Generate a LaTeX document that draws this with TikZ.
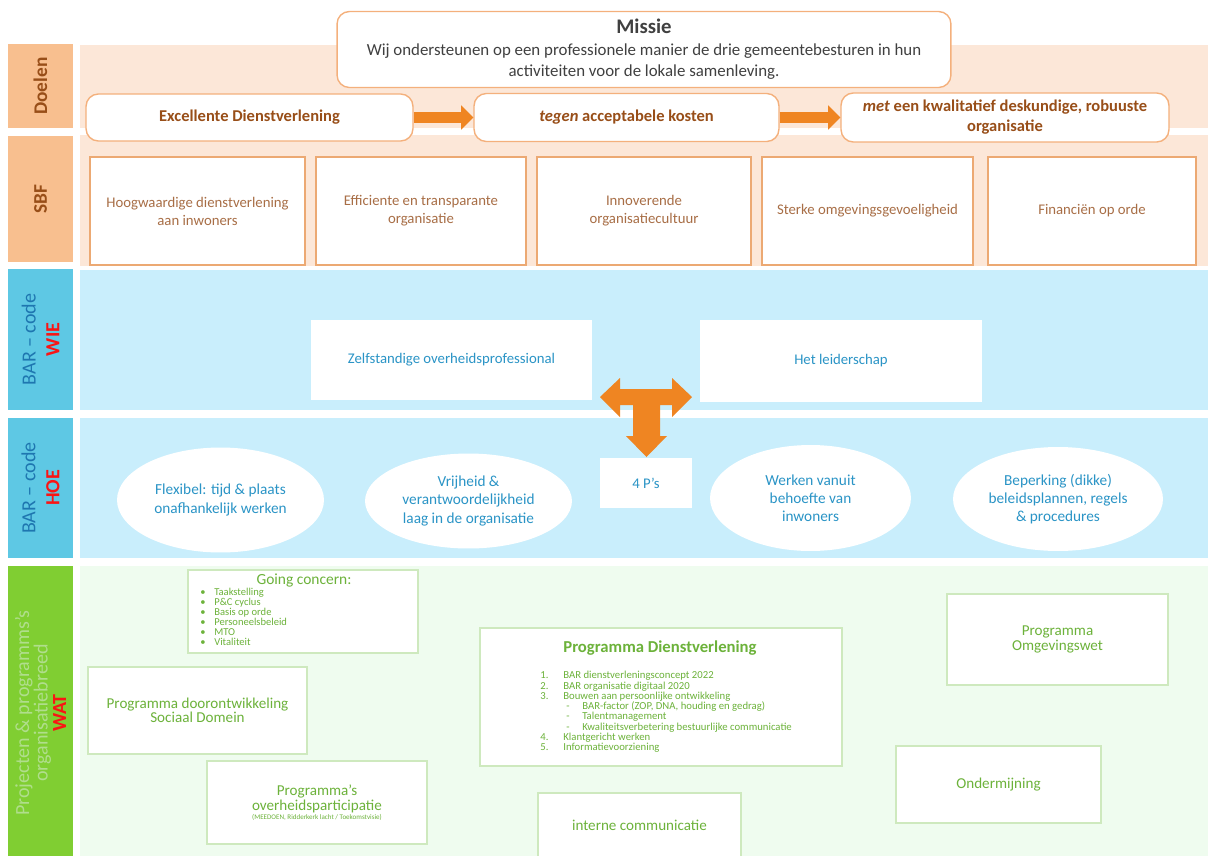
\documentclass[tikz,border=0pt]{standalone}
\usepackage{fontspec}
\setmainfont{Carlito}
\usepackage{tikz}
\usetikzlibrary{arrows.meta,positioning,shapes.geometric,shadows}

\definecolor{orlab}{RGB}{248,191,143}
\definecolor{orband}{RGB}{252,231,216}
\definecolor{orline}{RGB}{244,176,124}
\definecolor{orarrow}{RGB}{239,133,34}
\definecolor{brdark}{RGB}{152,78,24}
\definecolor{brlight}{RGB}{168,110,70}
\definecolor{bllab}{RGB}{94,200,228}
\definecolor{blband}{RGB}{201,238,252}
\definecolor{bltext}{RGB}{42,148,198}
\definecolor{bllabtext}{RGB}{30,118,176}
\definecolor{grlab}{RGB}{128,206,50}
\definecolor{grband}{RGB}{239,252,239}
\definecolor{grline}{RGB}{206,233,190}
\definecolor{grtext}{RGB}{108,178,58}
\definecolor{grlabtext}{RGB}{176,222,140}
\definecolor{redlab}{RGB}{250,20,20}

\newcommand{\fsz}[2]{\fontsize{#1}{#2}\selectfont}

\begin{document}
\begin{tikzpicture}[
    x = 0.02cm, y = -0.02cm, % one unit = one pixel of the sheet
    lab/.style = {rotate = 90, minimum height = 1.3cm, inner sep = 0pt, align = center},
    doel/.style = {draw = orline, fill = white, rounded corners = 7pt, line width = 0.8pt,
        align = center, text = brdark, font = \fsz{9.4}{11.3}\bfseries},
    sbf/.style = {draw = orline!85!brown, fill = white, line width = 0.7pt,
        minimum height = 2.16cm, align = center, text = brlight, font = \fsz{8.4}{10.2},
        drop shadow = {shadow xshift = 0.8pt, shadow yshift = -0.8pt, opacity = 0.25}},
    wie/.style = {fill = white, align = center, text = bltext, font = \fsz{8.4}{10.2}},
    hoe/.style = {ellipse, fill = white, inner sep = 0pt, align = center, text = bltext,
        font = \fsz{8.7}{10.3}},
    wat/.style = {draw = grline, fill = white, line width = 0.7pt, align = center, text = grtext},
    lijst/.style = {inner sep = 0pt, anchor = west, text = grtext, text height = 4pt,
        text depth = 1.2pt}, % one line of a list
    pijl/.style = {draw = orarrow, line width = 6.5pt, -{Triangle[width = 13.5pt, length = 7pt]}}
    ]

    \useasboundingbox (0,0) rectangle (1208,856);

    % bands
    \fill[orband] (80,45) rectangle (1208,128);
    \fill[orband] (80,135) rectangle (1208,266);
    \fill[blband] (80,270) rectangle (1208,410);
    \fill[blband] (80,418) rectangle (1208,558);
    \fill[grband] (80,566) rectangle (1208,856);

    % labels on the left
    \node[lab, fill = orlab, minimum width = 1.68cm, text = brdark, font = \fsz{11}{13}\bfseries] (ldoel) at (40.5,86) {Doelen};
    \node[lab, fill = orlab, minimum width = 2.54cm, text = brdark, font = \fsz{11}{13}\bfseries] (lsbf) at (40.5,199) {SBF};
    \node[lab, fill = bllab, minimum width = 2.82cm, text = bllabtext, font = \fsz{11.4}{13.6}] (lwie) at (40.5,339.5) {BAR – code\\ \textcolor{redlab}{\bfseries WIE}};
    \node[lab, fill = bllab, minimum width = 2.8cm, text = bllabtext, font = \fsz{11.4}{13.6}] (lhoe) at (40.5,488) {BAR – code\\ \textcolor{redlab}{\bfseries HOE}};
    \node[lab, fill = grlab, minimum width = 5.9cm, text = grlabtext, font = \fsz{11.4}{10.5}] (lwat) at (40.5,713) {Projecten \& programms’s\\ organisatiebreed\\ \textcolor{redlab}{\bfseries WAT}};

    % missie and doelen
    \node[doel, text = black!75, font = \fsz{9.6}{12.2}, minimum width = 12.28cm, minimum height = 1.52cm] (missie) at (644,49.5)
        {{\fsz{11.8}{12}\bfseries Missie}\\ Wij ondersteunen op een professionele manier de drie gemeentebesturen in hun\\ activiteiten voor de lokale samenleving.};
    \node[doel, minimum width = 6.54cm, minimum height = 0.94cm] (d1) at (249.5,117.5) {Excellente Dienstverlening};
    \node[doel, minimum width = 6.1cm, minimum height = 0.96cm] (d2) at (626.5,117.5) {\textit{tegen} acceptabele kosten};
    \node[doel, minimum width = 6.56cm, minimum height = 0.98cm] (d3) at (1005,117.5) {\textit{met} een kwalitatief deskundige, robuuste\\ organisatie};

    \draw[pijl] (d1) -- (d2);
    \draw[pijl] (d2) -- (d3);

    % SBF
    \node[sbf, minimum width = 4.3cm] (s1) at (197.5,211) {Hoogwaardige dienstverlening\\ aan inwoners};
    \node[sbf, minimum width = 4.2cm] (s2) at (421,211) {Efficiente en transparante\\ organisatie};
    \node[sbf, minimum width = 4.28cm] (s3) at (644,211) {Innoverende\\ organisatiecultuur};
    \node[sbf, minimum width = 4.22cm] (s4) at (867.5,211) {Sterke omgevingsgevoeligheid};
    \node[sbf, minimum width = 4.16cm] (s5) at (1092,211) {Financiën op orde};

    % WIE
    \node[wie, minimum width = 5.62cm, minimum height = 1.6cm] (w1) at (451.5,360) {Zelfstandige overheidsprofessional};
    \node[wie, minimum width = 5.64cm, minimum height = 1.64cm] (w2) at (841,361) {Het leiderschap};

    % T-shaped arrow
    \fill[orarrow] (600,397) -- (620,378) -- (620,389) -- (672,389) -- (672,378) -- (692,397)
        -- (672,417) -- (672,405) -- (660,405) -- (660,436) -- (667,436) -- (646.5,457)
        -- (626,436) -- (633,436) -- (633,405) -- (620,405) -- (620,417) -- cycle;

    % HOE
    \node[wie, minimum width = 1.84cm, minimum height = 1cm] (p4) at (646,483) {4 P’s};
    \node[hoe, minimum width = 4.14cm, minimum height = 2.1cm] (e1) at (220.5,500) {Flexibel: tijd \& plaats\\ onafhankelijk werken};
    \node[hoe, minimum width = 4.14cm, minimum height = 1.9cm] (e2) at (468.5,501) {Vrijheid \&\\ verantwoordelijkheid\\ laag in de organisatie};
    \node[hoe, minimum width = 4.02cm, minimum height = 2.12cm] (e3) at (810.5,498) {Werken vanuit\\ behoefte van\\ inwoners};
    \node[hoe, minimum width = 4.2cm, minimum height = 2.08cm] (e4) at (1058,499) {Beperking (dikke)\\ beleidsplannen, regels\\ \& procedures};

    % WAT
    \node[wat, minimum width = 4.6cm, minimum height = 1.66cm] (gc) at (303,611.5) {};
    \node[text = grtext, font = \fsz{8.8}{10}, inner sep = 0pt] (gct) at (304,581) {Going concern:};
    \foreach \tx [count = \i] in {Taakstelling, P\&C cyclus, Basis op orde, Personeelsbeleid, MTO, Vitaliteit} {
        \node[lijst, font = \fsz{6}{6}] (gb\i) at (200,583+10*\i) {\textbullet};
        \node[lijst, font = \fsz{6}{6}] (gc\i) at (214,583+10*\i) {\tx};
    }

    \node[wat, minimum width = 4.38cm, minimum height = 1.74cm, font = \fsz{8.6}{8.2}] (sd) at (197.5,710.5) {Programma doorontwikkeling\\ Sociaal Domein};
    \node[wat, minimum width = 4.4cm, minimum height = 1.66cm, font = \fsz{8.6}{9}] (op) at (317,802.5)
        {Programma’s\\ overheidsparticipatie\\[-4pt] {\fsz{4}{5}(MEEDOEN, Ridderkerk lacht / Toekomstvisie)}};

    \node[wat, minimum width = 7.24cm, minimum height = 2.76cm] (pd) at (661,697) {};
    \node[text = grtext, font = \fsz{9.5}{11}\bfseries, inner sep = 0pt] (pdt) at (660,648) {Programma Dienstverlening};
    \foreach \nr/\tx/\xa/\xb [count = \i] in {1./BAR dienstverleningsconcept 2022/540/563,
        2./BAR organisatie digitaal 2020/540/563, 3./Bouwen aan persoonlijke ontwikkeling/540/563,
        -/{BAR-factor (ZOP, DNA, houding en gedrag)}/566/582, -/Talentmanagement/566/582,
        -/Kwaliteitsverbetering bestuurlijke communicatie/566/582,
        4./Klantgericht werken/540/563, 5./Informatievoorziening/540/563} {
        \node[lijst, font = \fsz{6.1}{6}] (pn\i) at (\xa,666+10.3*\i) {\nr};
        \node[lijst, font = \fsz{6.1}{6}] (pl\i) at (\xb,666+10.3*\i) {\tx};
    }

    \node[wat, minimum width = 4.42cm, minimum height = 1.82cm, font = \fsz{8.6}{8.2}] (ow) at (1057.5,639.5) {Programma\\ Omgevingswet};
    \node[wat, minimum width = 4.1cm, minimum height = 1.54cm, font = \fsz{8.6}{10}] (om) at (998.5,784.5) {Ondermijning};
    \node[wat, minimum width = 4.06cm, minimum height = 1.28cm, font = \fsz{8.6}{10}] (ic) at (639.5,825) {interne communicatie};
\end{tikzpicture}
\end{document}
